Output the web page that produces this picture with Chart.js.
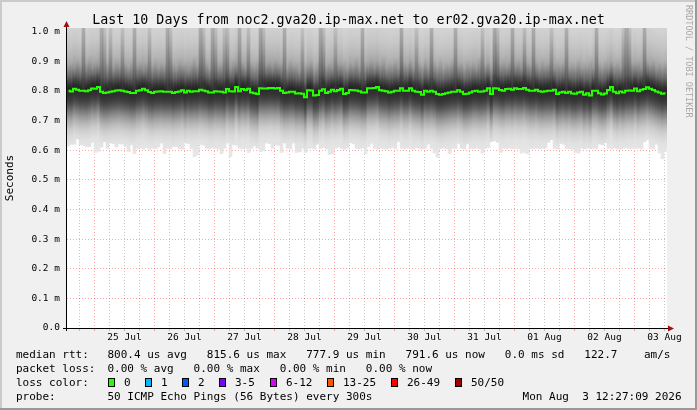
<!DOCTYPE html>
<html><head><meta charset="utf-8">
<script src="https://cdn.jsdelivr.net/npm/chart.js@4.4.1/dist/chart.umd.min.js"></script>
<style>html,body{margin:0;padding:0;background:#f0f0f0;}canvas{display:block;}</style>
</head><body>
<canvas id="c" width="697" height="410" style="width:697px;height:410px"></canvas>
<script>
// ---------- data ----------
const titleText = 'Last 10 Days from noc2.gva20.ip-max.net to er02.gva20.ip-max.net';
const dayLabels = ['25 Jul','26 Jul','27 Jul','28 Jul','29 Jul','30 Jul','31 Jul','01 Aug','02 Aug','03 Aug'];
const yTickValues = [0,0.1,0.2,0.3,0.4,0.5,0.6,0.7,0.8,0.9,1.0];
const yTickLabels = ['0.0','0.1 m','0.2 m','0.3 m','0.4 m','0.5 m','0.6 m','0.7 m','0.8 m','0.9 m','1.0 m'];
const Y_MAX = 1.012;          // ms, top of the value axis
const X_HOURS = 240;          // 10 days shown
const STEP_HOURS = 1.2;       // one consolidated column
const FIRST_MIDNIGHT = 11.0;  // hours from the left edge to 25 Jul 00:00

// median round-trip time per column (ms)
const medianRtt = [
0.800,0.798,0.807,0.804,0.800,0.800,0.799,0.802,0.808,0.807,
0.813,0.797,0.793,0.794,0.797,0.799,0.801,0.802,0.800,0.798,
0.796,0.793,0.793,0.800,0.802,0.807,0.802,0.796,0.793,0.797,
0.798,0.799,0.797,0.797,0.797,0.793,0.796,0.798,0.802,0.794,
0.800,0.797,0.799,0.799,0.804,0.801,0.799,0.794,0.794,0.799,
0.798,0.797,0.794,0.806,0.799,0.798,0.813,0.799,0.806,0.803,
0.807,0.794,0.792,0.789,0.809,0.808,0.808,0.810,0.810,0.808,
0.810,0.800,0.793,0.794,0.797,0.797,0.791,0.792,0.790,0.778,
0.802,0.801,0.784,0.786,0.800,0.805,0.793,0.797,0.804,0.799,
0.803,0.807,0.789,0.793,0.803,0.802,0.801,0.799,0.794,0.794,
0.809,0.809,0.810,0.813,0.802,0.800,0.799,0.794,0.797,0.800,
0.800,0.809,0.800,0.800,0.809,0.800,0.797,0.796,0.787,0.800,
0.797,0.800,0.797,0.789,0.787,0.789,0.792,0.794,0.797,0.797,
0.802,0.797,0.789,0.790,0.794,0.799,0.800,0.797,0.798,0.800,
0.809,0.789,0.809,0.808,0.803,0.800,0.806,0.807,0.804,0.809,
0.806,0.806,0.810,0.804,0.800,0.800,0.804,0.799,0.797,0.799,
0.800,0.800,0.804,0.789,0.794,0.797,0.793,0.797,0.791,0.790,
0.794,0.797,0.787,0.792,0.784,0.800,0.800,0.792,0.788,0.791,
0.803,0.813,0.797,0.792,0.798,0.794,0.800,0.801,0.800,0.808,
0.799,0.804,0.806,0.812,0.807,0.803,0.798,0.794,0.790,0.792];

// fastest ping per column (ms) - lower edge of the smoke
const smokeMin = [
0.614,0.620,0.620,0.638,0.618,0.616,0.612,0.611,0.626,0.592,
0.596,0.610,0.628,0.606,0.624,0.622,0.610,0.621,0.620,0.612,
0.595,0.618,0.588,0.606,0.608,0.604,0.609,0.603,0.607,0.605,
0.610,0.624,0.588,0.606,0.604,0.612,0.612,0.605,0.603,0.624,
0.622,0.606,0.578,0.584,0.619,0.617,0.606,0.604,0.608,0.605,
0.603,0.588,0.606,0.624,0.578,0.618,0.616,0.606,0.604,0.607,
0.592,0.605,0.614,0.606,0.595,0.598,0.624,0.622,0.606,0.618,
0.616,0.592,0.624,0.606,0.604,0.624,0.592,0.594,0.606,0.592,
0.605,0.607,0.604,0.620,0.606,0.608,0.604,0.585,0.588,0.606,
0.610,0.605,0.603,0.607,0.625,0.622,0.606,0.604,0.607,0.588,
0.612,0.623,0.606,0.604,0.608,0.605,0.603,0.606,0.609,0.604,
0.629,0.606,0.604,0.607,0.605,0.603,0.608,0.606,0.604,0.607,
0.620,0.606,0.590,0.576,0.605,0.607,0.604,0.588,0.606,0.605,
0.623,0.606,0.604,0.621,0.606,0.605,0.607,0.604,0.590,0.606,
0.608,0.629,0.632,0.626,0.592,0.606,0.604,0.607,0.605,0.606,
0.604,0.590,0.592,0.588,0.606,0.604,0.607,0.605,0.606,0.608,
0.626,0.635,0.606,0.604,0.622,0.620,0.606,0.605,0.603,0.592,
0.590,0.606,0.604,0.607,0.605,0.606,0.604,0.620,0.618,0.625,
0.606,0.604,0.607,0.605,0.603,0.606,0.608,0.604,0.606,0.605,
0.607,0.604,0.628,0.635,0.606,0.604,0.620,0.590,0.571,0.596];

// upper spread of the pings per column (ms) - darker streaks reach higher
const smokeHigh = [
0.89,0.90,0.88,0.91,0.89,1.30,0.90,0.92,0.88,0.90,
0.89,1.30,1.10,0.90,1.10,0.88,0.91,0.89,1.10,0.90,
0.88,0.91,1.30,0.89,0.90,0.87,0.90,1.10,0.89,0.91,
0.88,0.90,0.89,1.30,1.10,0.90,0.88,0.91,0.89,0.90,
0.87,0.90,0.92,0.89,1.30,1.10,0.90,0.88,1.30,1.10,
0.89,0.90,1.10,1.10,0.88,0.91,0.89,1.30,0.90,0.88,
1.10,0.90,0.89,0.91,1.30,1.10,0.89,0.90,0.88,0.91,
0.89,0.90,1.30,0.88,0.91,0.89,0.90,0.87,1.10,0.90,
0.89,0.91,0.88,0.90,1.30,1.10,0.89,0.90,0.88,1.10,
0.90,0.89,0.91,0.88,0.90,0.89,0.92,0.88,1.30,0.90,
0.89,0.91,0.88,0.90,0.89,0.92,0.88,0.90,0.89,0.91,
0.88,1.30,0.90,0.89,0.91,0.88,1.10,0.90,0.89,0.91,
0.88,1.30,0.90,0.89,0.92,0.88,0.90,0.89,0.91,1.30,
0.89,0.90,0.88,0.91,0.89,0.90,0.88,0.92,1.10,0.89,
0.90,0.88,1.30,1.10,0.89,0.91,0.88,0.90,1.30,0.89,
0.91,0.88,1.10,0.90,0.89,1.30,0.90,0.88,0.91,0.89,
0.90,1.10,0.88,0.91,0.89,0.90,1.30,0.88,0.90,0.89,
0.91,0.88,0.90,0.89,0.92,0.88,1.30,0.90,0.89,0.91,
0.88,0.90,0.89,0.91,0.88,1.10,1.30,1.10,0.90,0.89,
0.91,0.88,1.30,0.90,0.89,0.91,0.88,0.90,0.89,0.90];

const rttLegend = '800.4 us avg   815.6 us max   777.9 us min   791.6 us now   0.0 ms sd   122.7    am/s';
const lossLegend = '0.00 % avg   0.00 % max   0.00 % min   0.00 % now';
const lossLabels = ['0','1','2','3-5','6-12','13-25','26-49','50/50'];
const lossColors = ['#26ff00','#00b8ff','#0059ff','#7e00ff','#dd00ff','#ff5500','#ff0000','#a10000'];
const probeText = '50 ICMP Echo Pings (56 Bytes) every 300s';
const stampText = 'Mon Aug  3 12:27:09 2026';
const watermark = 'RRDTOOL / TOBI OETIKER';

// ---------- derived ----------
const colX = medianRtt.map((_, i) => (i + 0.5) * STEP_HOURS);
const xTicks = [];
for (let k = -1; FIRST_MIDNIGHT + 6 * k < X_HOURS; k++) {
  const h = FIRST_MIDNIGHT + 6 * k;
  if (h <= 0) continue;
  const m = ((k % 4) + 4) % 4;
  xTicks.push({ h, major: m === 0, label: (m === 2 && k >= 0) ? dayLabels[(k - 2) / 4] : '' });
}

const FONT = '"DejaVu Sans Mono", monospace';
const RED = 'rgba(255,0,0,0.35)';
const GREY = 'rgba(120,120,120,0.42)';
const grey = v => `rgb(${v},${v},${v})`;

// smoke shading relative to the column median (style)
const baseStops = [[0.25,216],[0.21,210],[0.16,198],[0.12,182],[0.09,165],[0.07,148],[0.05,126],[0.035,96],[0.02,68],[0.005,50],
  [-0.01,46],[-0.025,55],[-0.04,72],[-0.055,95],[-0.07,122],[-0.09,155],[-0.11,182],[-0.13,203],[-0.15,216],[-0.17,225],[-0.2,230],[-0.3,232]];

function baseColor(ctx) {
  if (ctx.type !== 'data') return '#ddd';
  const ch = ctx.chart, ys = ch.scales.y;
  if (!ys || !ch.chartArea) return '#ddd';
  const m = medianRtt[ctx.dataIndex];
  const T = m + 0.25, B = m - 0.30;
  const g = ch.ctx.createLinearGradient(0, ys.getPixelForValue(T), 0, ys.getPixelForValue(B));
  baseStops.forEach(([off, v]) => g.addColorStop(Math.min(1, Math.max(0, (0.25 - off) / 0.55)), grey(v)));
  return g;
}
function spreadColor(ctx) {
  if (ctx.type !== 'data') return 'rgba(0,0,0,0)';
  const ch = ctx.chart, ys = ch.scales.y;
  if (!ys || !ch.chartArea) return 'rgba(0,0,0,0)';
  const i = ctx.dataIndex;
  const g = ch.ctx.createLinearGradient(0, ys.getPixelForValue(medianRtt[i]), 0, ys.getPixelForValue(smokeHigh[i]));
  g.addColorStop(0, 'rgba(0,0,0,0)');
  g.addColorStop(0.08, 'rgba(0,0,0,0.28)');
  g.addColorStop(1, 'rgba(0,0,0,0)');
  return g;
}

const deco = {
  id: 'deco',
  beforeDraw(chart) {
    const c = chart.ctx, a = chart.chartArea;
    c.save();
    c.fillStyle = '#f0f0f0'; c.fillRect(0, 0, 697, 410);
    c.fillStyle = '#ffffff'; c.fillRect(a.left, a.top, a.right - a.left, a.bottom - a.top);
    c.restore();
  },
  afterDraw(chart) {
    const c = chart.ctx, a = chart.chartArea;
    c.save();
    // axes
    c.strokeStyle = '#000'; c.lineWidth = 1;
    c.beginPath();
    c.moveTo(a.left - 0.5, a.bottom + 3); c.lineTo(a.left - 0.5, a.top - 2);
    c.moveTo(a.left - 4, a.bottom + 0.5); c.lineTo(a.right + 2, a.bottom + 0.5);
    c.stroke();
    c.fillStyle = '#a01010';
    c.beginPath(); c.moveTo(a.left - 0.5, a.top - 7); c.lineTo(a.left - 3.5, a.top - 1); c.lineTo(a.left + 2.5, a.top - 1); c.closePath(); c.fill();
    c.beginPath(); c.moveTo(a.right + 7, a.bottom + 0.5); c.lineTo(a.right + 1, a.bottom - 2.5); c.lineTo(a.right + 1, a.bottom + 3.5); c.closePath(); c.fill();

    // title
    c.fillStyle = '#000';
    c.font = '13.3px ' + FONT; c.textAlign = 'center'; c.textBaseline = 'alphabetic';
    c.fillText(titleText, 348.5, 24);

    // y title
    c.save(); c.translate(10, (a.top + a.bottom) / 2); c.rotate(-Math.PI / 2);
    c.font = '11px ' + FONT; c.textAlign = 'center'; c.textBaseline = 'middle';
    c.fillText('Seconds', 0, 0); c.restore();

    // watermark
    c.save(); c.translate(688.5, 5); c.rotate(Math.PI / 2);
    c.font = '8.5px ' + FONT; c.textAlign = 'left'; c.textBaseline = 'middle'; c.fillStyle = '#a8a8a8';
    c.fillText(watermark, 0, 0); c.restore();

    // legend
    c.font = '11px ' + FONT; c.textAlign = 'left'; c.textBaseline = 'alphabetic'; c.fillStyle = '#000';
    const LX = 16, VX = 107.5;
    c.fillText('median rtt:', LX, 358); c.fillText(rttLegend, VX, 358);
    c.fillText('packet loss:', LX, 372); c.fillText(lossLegend, VX, 372);
    c.fillText('loss color:', LX, 386);
    let bx = 108;
    lossLabels.forEach((lab, k) => {
      c.fillStyle = '#000'; c.fillRect(bx, 378, 7, 9);
      c.fillStyle = lossColors[k]; c.fillRect(bx + 1, 379, 5, 7);
      c.fillStyle = '#000';
      const tx = bx + 16;
      c.fillText(lab, tx, 386);
      bx = Math.round(tx + c.measureText(lab).width + 14.7);
    });
    c.fillText('probe:', LX, 400); c.fillText(probeText, VX, 400);
    c.textAlign = 'right'; c.fillText(stampText, 681.5, 400);

    // frame
    c.fillStyle = '#cbcbcb'; c.fillRect(0, 0, 697, 2); c.fillRect(0, 0, 2, 410);
    c.fillStyle = '#999999'; c.fillRect(0, 408, 697, 2); c.fillRect(695, 0, 2, 410);
    c.restore();
  }
};

new Chart(document.getElementById('c'), {
  type: 'bar',
  data: {
    datasets: [
      { type: 'line', label: 'median rtt', data: medianRtt.map((v, i) => ({ x: colX[i], y: v })),
        borderColor: '#26ff00', borderWidth: 2, pointRadius: 0, stepped: 'middle', order: 1 },
      { type: 'bar', label: 'spread', data: smokeHigh.map((h, i) => ({ x: colX[i], y: [medianRtt[i], h] })),
        backgroundColor: spreadColor, borderWidth: 0, grouped: false, barThickness: 3, order: 2 },
      { type: 'bar', label: 'smoke', data: smokeMin.map((v, i) => ({ x: colX[i], y: [v, Y_MAX] })),
        backgroundColor: baseColor, borderWidth: 0, grouped: false, barThickness: 3, order: 3 }
    ]
  },
  options: {
    responsive: false, animation: false, events: [], devicePixelRatio: 1,
    layout: { padding: { top: 28, right: 30, bottom: 0, left: 0 } },
    plugins: { legend: { display: false }, tooltip: { enabled: false }, title: { display: false } },
    scales: {
      x: {
        type: 'linear', min: 0, max: X_HOURS, offset: false, z: 1,
        afterBuildTicks: s => { s.ticks = xTicks.map(t => ({ value: t.h })); },
        afterFit: s => { s.height = 82; s.paddingLeft = 0; s.paddingRight = 0; },
        grid: { offset: false, lineWidth: 1, drawTicks: true, tickLength: 3,
          color: ctx => (xTicks[ctx.index] && xTicks[ctx.index].major) ? RED : GREY },
        border: { display: false, dash: [1, 2] },
        ticks: { autoSkip: false, maxRotation: 0, minRotation: 0, padding: 1, color: '#000',
          font: { family: FONT, size: 9.5 },
          callback: (v, i) => xTicks[i] ? xTicks[i].label : '' }
      },
      y: {
        type: 'linear', min: 0, max: Y_MAX, z: 1,
        afterBuildTicks: s => { s.ticks = yTickValues.map(v => ({ value: v })); },
        afterFit: s => { s.width = 67; s.paddingTop = 0; s.paddingBottom = 0; },
        grid: { color: RED, lineWidth: 1, drawTicks: false },
        border: { display: false, dash: [1, 2] },
        ticks: { padding: 7, color: '#000', font: { family: FONT, size: 9.5 },
          callback: (v, i) => yTickLabels[i] }
      }
    }
  },
  plugins: [deco]
});
</script>
</body></html>
